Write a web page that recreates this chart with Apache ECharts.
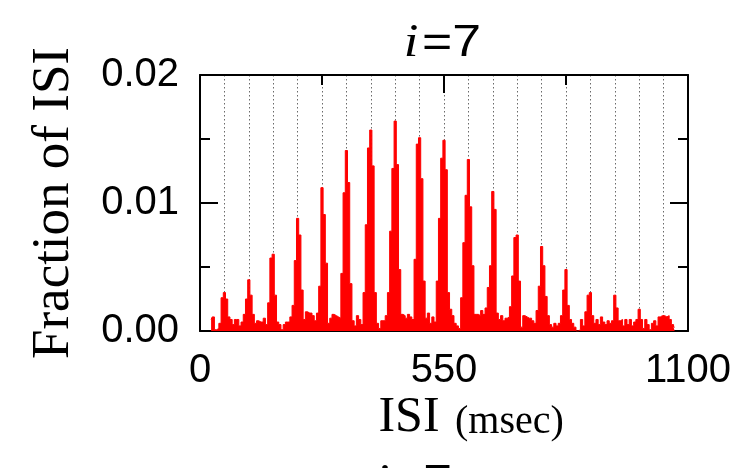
<!DOCTYPE html>
<html>
<head>
<meta charset="utf-8">
<script src="https://cdn.jsdelivr.net/npm/echarts@6/dist/echarts.min.js"></script>
<style>
  html, body { margin: 0; padding: 0; background: #fff; }
  #chart { width: 738px; height: 468px; }
</style>
</head>
<body>
<div id="chart"></div>
<script>
// ISI histogram, 5 ms bins, first bin centred at 25 ms
const isiStart = 25;
const binWidth = 5;
const fraction = [
  0.0009,
  0.0011, 0.0001, 0.0002, 0.0006, 0.0026, 0.0030, 0.0025, 0.0011, 0.0009, 0.0005, 0.0009,
  0.0009, 0.0004, 0.0007, 0.0013, 0.0025, 0.0040, 0.0028, 0.0013, 0.0006, 0.0008, 0.0007,
  0.0007, 0.0010, 0.0005, 0.0022, 0.0057, 0.0060, 0.0028, 0.0007, 0.0005, 0.0001, 0.0005,
  0.0007, 0.0007, 0.0011, 0.0020, 0.0055, 0.0088, 0.0075, 0.0032, 0.0009, 0.0015, 0.0014,
  0.0014, 0.0012, 0.0008, 0.0014, 0.0035, 0.0112, 0.0091, 0.0053, 0.0006, 0.0010, 0.0013,
  0.0012, 0.0011, 0.0010, 0.0045, 0.0108, 0.0141, 0.0116, 0.0037, 0.0008, 0.0004, 0.0012,
  0.0009, 0.0005, 0.0030, 0.0083, 0.0143, 0.0157, 0.0129, 0.0030, 0.0006, 0.0002, 0.0008,
  0.0008, 0.0012, 0.0030, 0.0078, 0.0127, 0.0164, 0.0130, 0.0048, 0.0013, 0.0012, 0.0010,
  0.0013, 0.0011, 0.0009, 0.0056, 0.0146, 0.0151, 0.0119, 0.0039, 0.0010, 0.0014, 0.0006,
  0.0011, 0.0007, 0.0039, 0.0088, 0.0135, 0.0149, 0.0126, 0.0030, 0.0017, 0.0012, 0.0006,
  0.0004, 0.0002, 0.0026, 0.0069, 0.0106, 0.0134, 0.0097, 0.0051, 0.0013, 0.0013, 0.0012,
  0.0016, 0.0013, 0.0018, 0.0034, 0.0051, 0.0109, 0.0095, 0.0014, 0.0009, 0.0012, 0.0008,
  0.0010, 0.0011, 0.0019, 0.0043, 0.0073, 0.0075, 0.0039, 0.0003, 0.0012, 0.0011, 0.0010,
  0.0010, 0.0008, 0.0006, 0.0016, 0.0035, 0.0066, 0.0051, 0.0027, 0.0012, 0.0005, 0.0003,
  0.0006, 0.0004, 0.0006, 0.0012, 0.0032, 0.0048, 0.0020, 0.0009, 0.0006, 0.0003, 0.0000,
  0.0001, 0.0009, 0.0004, 0.0015, 0.0028, 0.0030, 0.0012, 0.0006, 0.0009, 0.0005, 0.0011,
  0.0007, 0.0005, 0.0008, 0.0006, 0.0008, 0.0028, 0.0018, 0.0008, 0.0009, 0.0004, 0.0009,
  0.0005, 0.0009, 0.0004, 0.0007, 0.0009, 0.0017, 0.0009, 0.0002, 0.0009, 0.0005, 0.0001,
  0.0006, 0.0008, 0.0004, 0.0011, 0.0012, 0.0012, 0.0011, 0.0012, 0.0009, 0.0005, 0.0003
];
const xMin = 0, xMax = 1100, xLabelStep = 550, xGridStep = 55;
const yMin = 0, yMax = 0.02, yLabelStep = 0.01;
const titleVar = 'i';
const titleRest = '=7';
const yAxisTitle = 'Fraction of ISI';
const xAxisTitle = 'ISI';
const xAxisUnit = '(msec)';

const seriesData = fraction.map((v, i) => [isiStart + i * binWidth, v]);

const black = '#000';
const sans = '"Liberation Sans", Arial, sans-serif';
const serif = '"Liberation Serif", "Times New Roman", serif';

const frameAxis = {
  axisLine: { show: true, onZero: false, lineStyle: { color: black, width: 2 } },
  axisTick: { show: true, inside: true, length: 18, lineStyle: { color: black, width: 2 } },
  minorTick: { show: true, splitNumber: 2, length: 10, lineStyle: { color: black, width: 2 } },
  splitLine: { show: false }
};

function titleParts(cx, cy) {
  return [
    { type: 'text', x: cx - 30, y: cy, z: 10, scaleX: 1.12,
      style: { text: titleVar, textAlign: 'center', textVerticalAlign: 'middle', fill: black,
        fontFamily: serif, fontStyle: 'italic', fontSize: 47 } },
    { type: 'text', x: cx - 19, y: cy, z: 10, scaleX: 1.15,
      style: { text: titleRest, textAlign: 'left', textVerticalAlign: 'middle', fill: black,
        fontFamily: sans, fontSize: 45 } }
  ];
}

const chart = echarts.init(document.getElementById('chart'), null, { renderer: 'canvas' });
chart.setOption({
  animation: false,
  backgroundColor: '#fff',
  grid: { left: 200, right: 50, top: 75, bottom: 137, containLabel: false },
  xAxis: [
    Object.assign({
      type: 'value', position: 'bottom', min: xMin, max: xMax, interval: xLabelStep,
      axisLabel: { show: true, margin: 20, color: black, fontSize: 40, fontFamily: sans,
        formatter: v => String(v) }
    }, frameAxis),
    Object.assign({
      type: 'value', position: 'top', min: xMin, max: xMax, interval: xLabelStep,
      axisLabel: { show: false }
    }, frameAxis),
    {
      type: 'value', position: 'bottom', min: xMin, max: xMax, interval: xGridStep,
      axisLine: { show: false }, axisTick: { show: false }, axisLabel: { show: false },
      splitLine: { show: true, lineStyle: { color: '#6a6a6a', width: 1, type: [1.5, 2.5] } }
    }
  ],
  yAxis: [
    Object.assign({
      type: 'value', position: 'left', min: yMin, max: yMax, interval: yLabelStep,
      axisLabel: { show: true, margin: 21, color: black, fontSize: 40, fontFamily: sans,
        formatter: v => v.toFixed(2) }
    }, frameAxis),
    Object.assign({
      type: 'value', position: 'right', min: yMin, max: yMax, interval: yLabelStep,
      axisLabel: { show: false }
    }, frameAxis)
  ],
  series: [{
    type: 'line',
    xAxisIndex: 0,
    yAxisIndex: 0,
    step: 'middle',
    symbol: 'none',
    data: seriesData,
    lineStyle: { color: '#ff0000', width: 1 },
    areaStyle: { color: '#ff0000', opacity: 1 },
    z: 3
  }],
  graphic: [].concat(
    titleParts(441, 44),
    [
      { type: 'text', x: 54, y: 203, rotation: Math.PI / 2, z: 10,
        style: { text: yAxisTitle, textAlign: 'center', textVerticalAlign: 'middle', fill: black,
          fontFamily: serif, fontSize: 53 } },
      { type: 'text', x: 409, y: 418, z: 10,
        style: { text: xAxisTitle, textAlign: 'center', textVerticalAlign: 'middle', fill: black,
          fontFamily: serif, fontSize: 50 } },
      { type: 'text', x: 455, y: 422, z: 10,
        style: { text: xAxisUnit, textAlign: 'left', textVerticalAlign: 'middle', fill: black,
          fontFamily: serif, fontSize: 40 } }
    ],
    titleParts(412, 484)
  )
});
</script>
</body>
</html>
